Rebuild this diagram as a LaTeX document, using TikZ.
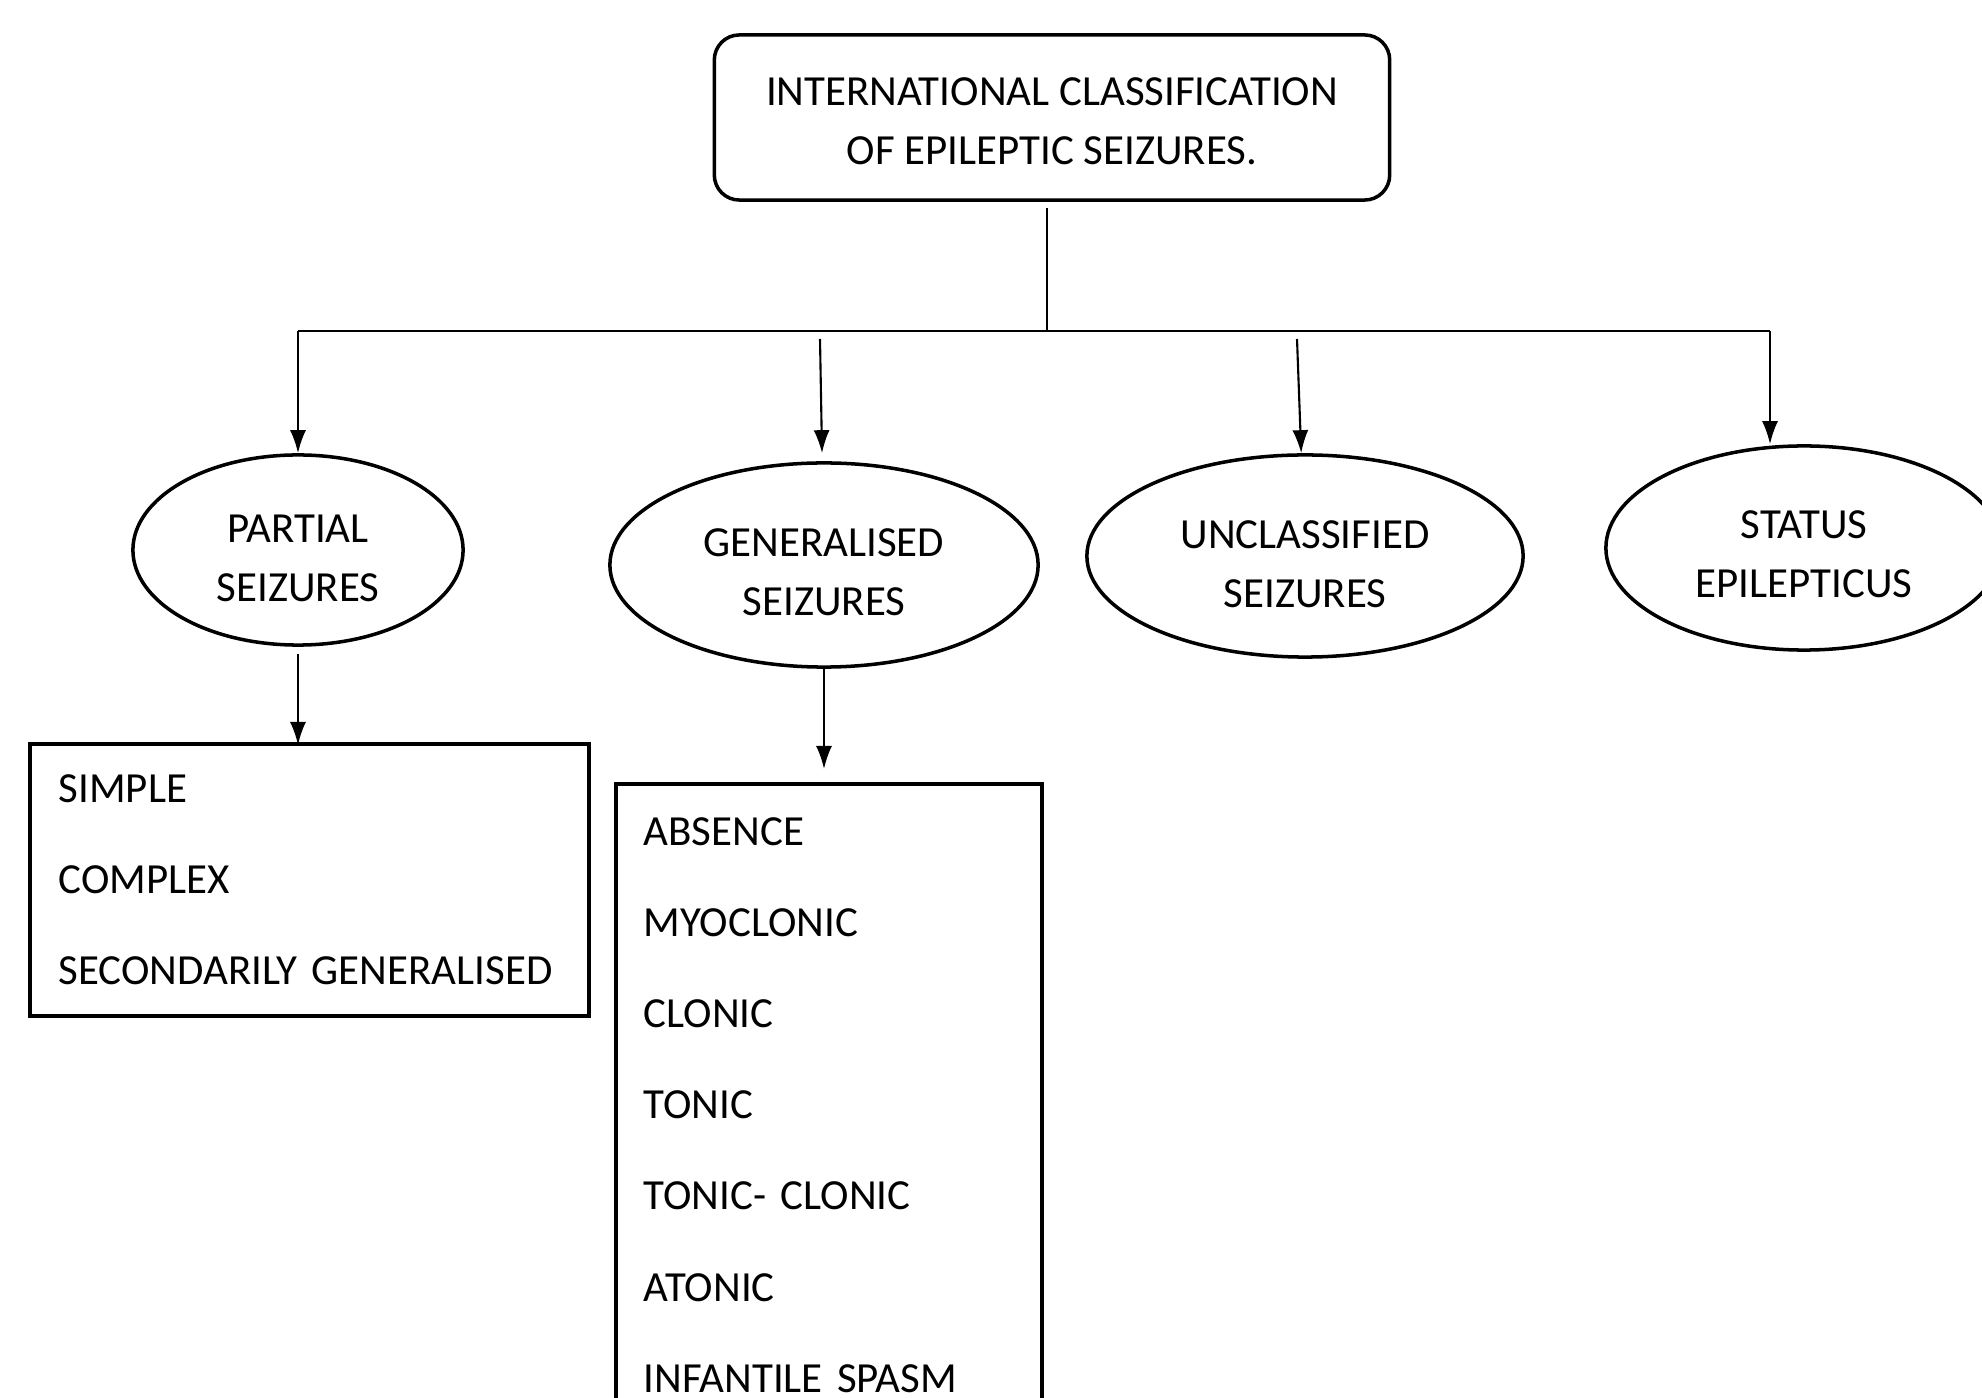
\documentclass[tikz,border=0pt]{standalone}
\usepackage{fontspec}
\setmainfont{Carlito}
\usetikzlibrary{arrows.meta,shapes.geometric}
\newcommand\lowerby[1]{\rule{0pt}{#1}}

\begin{document}
\begin{tikzpicture}[x=0.01cm,y=-0.01cm,>={Latex[length=0.23cm,width=0.16cm]},semithick,
                    oval/.style={ellipse,draw,line width=1pt,inner sep=0pt,align=center,
                                 font=\fontsize{12.2}{16.8}\selectfont},
                    listbox/.style={rectangle,draw,line width=1pt,align=left,anchor=north west,
                                    font=\fontsize{12.2}{25.9}\selectfont}]
  \useasboundingbox (0,0) rectangle (1982,1398);

  \node[rectangle,rounded corners=0.25cm,draw,line width=1pt,align=center,
        minimum width=6.75cm,minimum height=1.65cm,
        font=\fontsize{12.2}{16.8}\selectfont] (top) at (1052,117.5)
        {\lowerby{0.36cm}INTERNATIONAL CLASSIFICATION\\OF EPILEPTIC SEIZURES.};

  \node[oval,minimum width=3.30cm,minimum height=1.90cm] (partial) at (298,550) {\lowerby{0.44cm}PARTIAL\\SEIZURES};
  \node[oval,minimum width=4.28cm,minimum height=2.04cm] (gen)     at (824,565) {\lowerby{0.42cm}GENERALISED\\SEIZURES};
  \node[oval,minimum width=4.36cm,minimum height=2.02cm] (uncl)    at (1305,556) {\lowerby{0.44cm}UNCLASSIFIED\\SEIZURES};
  \node[oval,minimum width=3.96cm,minimum height=2.04cm] (stat)    at (1804,548) {\lowerby{0.40cm}STATUS\\EPILEPTICUS};

  \node[listbox,text width=5.01cm,inner xsep=0.29cm,inner ysep=0.31cm] (simple) at (28,742)
        {SIMPLE\\COMPLEX\\\mbox{SECONDARILY GENERALISED}};
  \node[listbox,text width=3.70cm,inner xsep=0.28cm,inner ysep=0.34cm] (glist) at (614,782)
        {ABSENCE\\MYOCLONIC\\CLONIC\\TONIC\\TONIC- CLONIC\\ATONIC\\INFANTILE SPASM};

  \coordinate (hub) at (1047,331);
  \coordinate (hl)  at (298,331);
  \coordinate (hr)  at (1770,331);
  \coordinate (g0)  at (820,339);
  \coordinate (u0)  at (1297,339);

  \draw[shorten <=0.06cm] (top.south -| hub) -- (hub);
  \draw (hl) -- (hr);
  \draw[->] (hl) -- (partial);
  \draw[->,shorten >=0.08cm] (g0) -- (gen);
  \draw[->] (u0) -- (uncl);
  \draw[->] (hr) -- (hr |- stat.north);
  \draw[->,shorten <=0.07cm,shorten >=-0.03cm] (partial) -- (partial |- simple.north);
  \draw[->,shorten >=0.13cm] (gen) -- (gen |- glist.north);
\end{tikzpicture}
\end{document}
